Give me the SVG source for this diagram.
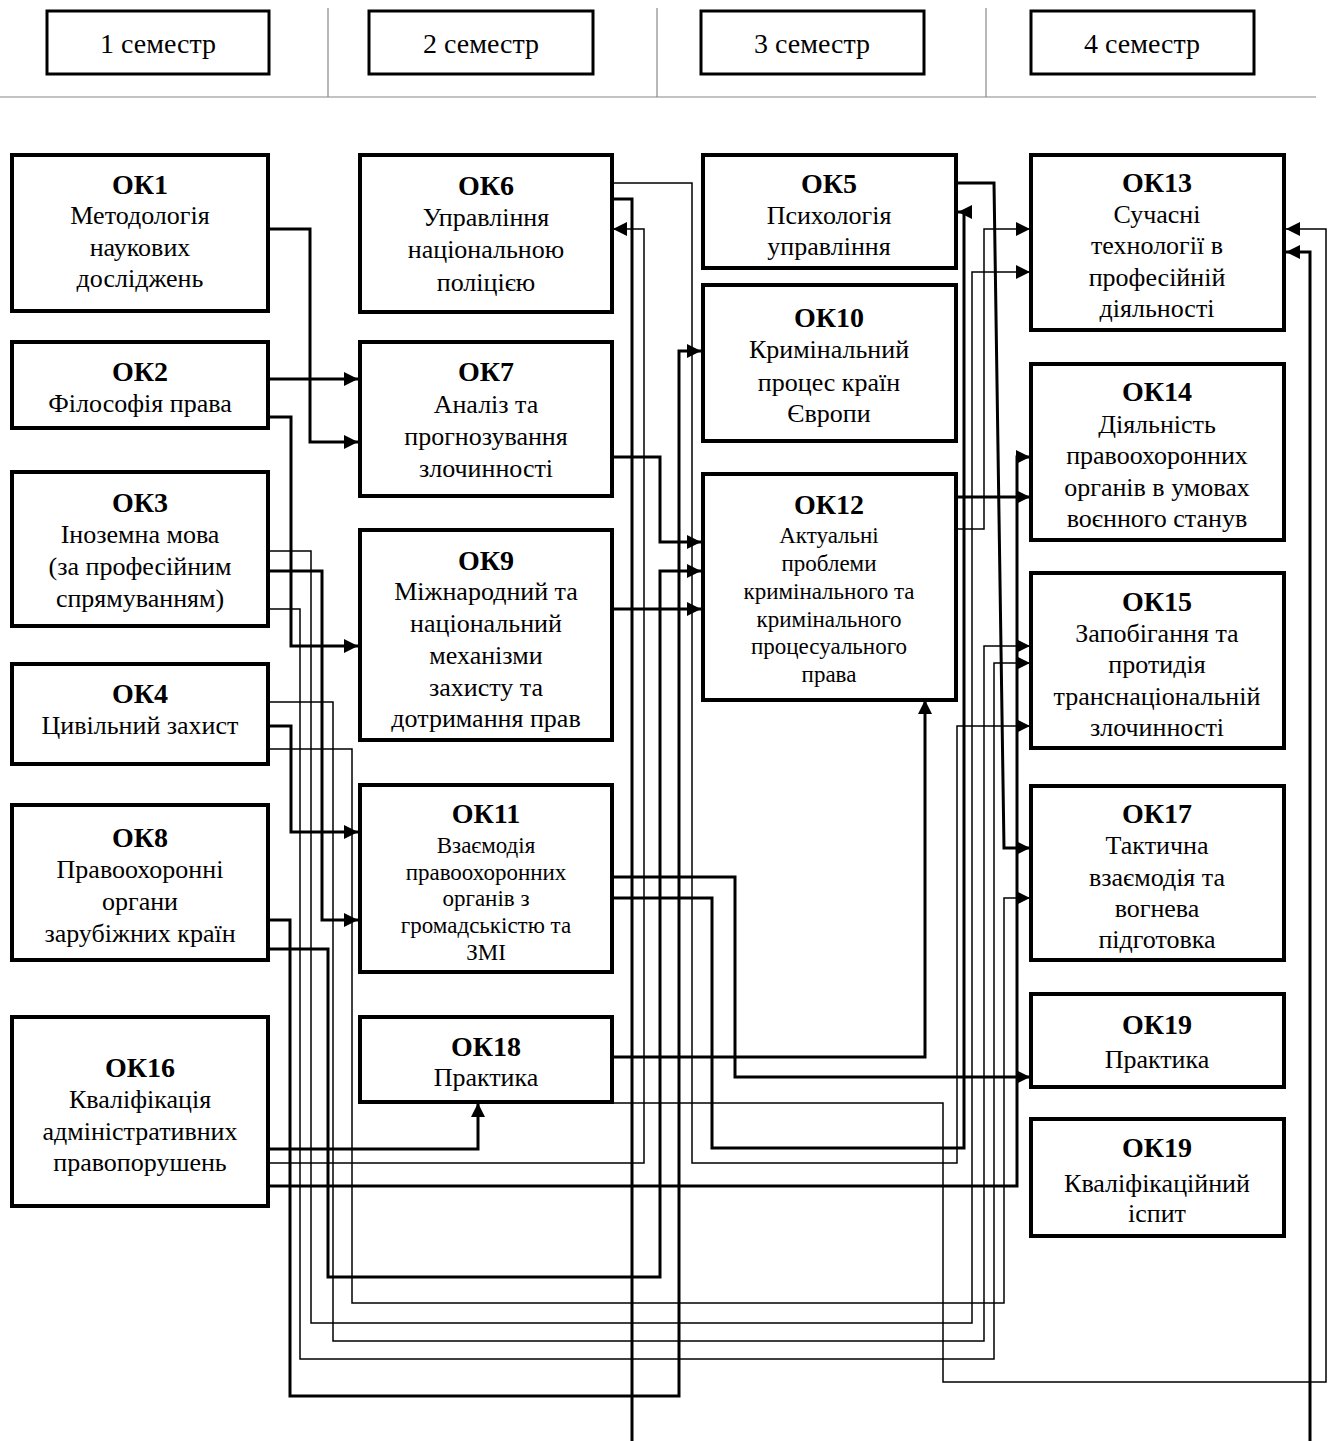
<svg xmlns="http://www.w3.org/2000/svg" width="1328" height="1441" viewBox="0 0 1328 1441">
<style>
.box{fill:#fff;stroke:#000;stroke-width:4}
.hbox{fill:#fff;stroke:#000;stroke-width:3}
.t{font-family:"Liberation Serif","Times New Roman",serif;font-size:26px;text-anchor:middle;fill:#000}
.h{font-size:28px}
.b{font-weight:bold;font-size:28px}
.s{font-size:23px}
.thick{fill:none;stroke:#000;stroke-width:3}
.thin{fill:none;stroke:#000;stroke-width:1.5}
.div{stroke:#888;stroke-width:1.2}
</style>
<defs>
<marker id="a" markerUnits="userSpaceOnUse" markerWidth="15" markerHeight="15" refX="14" refY="7" orient="auto"><path d="M0,0 L14,7 L0,14 z" fill="#000"/></marker>
</defs>
<rect width="1328" height="1441" fill="#fff"/>
<g id="header">
<line class="div" x1="328" y1="8" x2="328" y2="97"/>
<line class="div" x1="657" y1="8" x2="657" y2="97"/>
<line class="div" x1="986" y1="8" x2="986" y2="97"/>
<line class="div" x1="0" y1="97" x2="1316" y2="97"/>
<rect class="hbox" x="47" y="11" width="222" height="63"/>
<text class="t h" x="158" y="53">1 семестр</text>
<rect class="hbox" x="369" y="11" width="224" height="63"/>
<text class="t h" x="481" y="53">2 семестр</text>
<rect class="hbox" x="701" y="11" width="223" height="63"/>
<text class="t h" x="812" y="53">3 семестр</text>
<rect class="hbox" x="1031" y="11" width="223" height="63"/>
<text class="t h" x="1142" y="53">4 семестр</text>
</g>
<g id="connectors">
<path class="thick" d="M270 229 H310 V442 H358" marker-end="url(#a)"/>
<path class="thick" d="M270 379 H358" marker-end="url(#a)"/>
<path class="thick" d="M270 417 H291 V646 H358" marker-end="url(#a)"/>
<path class="thick" d="M270 571 H322 V920 H358" marker-end="url(#a)"/>
<path class="thin" d="M270 551 H311 V1323 H972 V272 H1030" marker-end="url(#a)"/>
<path class="thin" d="M270 609 H300 V1359 H994 V663 H1030" marker-end="url(#a)"/>
<path class="thick" d="M270 726 H291 V832 H358" marker-end="url(#a)"/>
<path class="thin" d="M270 702 H333 V1341 H984 V646 H1030" marker-end="url(#a)"/>
<path class="thin" d="M270 749 H352 V1303 H1004 V898 H1030" marker-end="url(#a)"/>
<path class="thick" d="M270 920 H290 V1396 H679 V351 H701" marker-end="url(#a)"/>
<path class="thick" d="M270 949 H328 V1277 H660 V571 H701" marker-end="url(#a)"/>
<path class="thick" d="M270 1149 H478 V1103" marker-end="url(#a)"/>
<path class="thin" d="M270 1163 H644 V229 H613" marker-end="url(#a)"/>
<path class="thick" d="M270 1186 H1017 V457 H1030" marker-end="url(#a)"/>
<path class="thick" d="M613 199 H632 V1441"/>
<path class="thin" d="M613 183 H692 V1163 H957 V726 H1030" marker-end="url(#a)"/>
<path class="thick" d="M613 457 H660 V542 H701" marker-end="url(#a)"/>
<path class="thick" d="M613 609 H701" marker-end="url(#a)"/>
<path class="thick" d="M613 877 H735 V1077 H1030" marker-end="url(#a)"/>
<path class="thick" d="M613 898 H712 V1148 H964 V212 H958" marker-end="url(#a)"/>
<path class="thick" d="M613 1057 H925 V700" marker-end="url(#a)"/>
<path class="thin" d="M613 1103 H943 V1382 H1326 V229 H1286" marker-end="url(#a)"/>
<path class="thick" d="M958 183 H994 L1004 848 H1030" marker-end="url(#a)"/>
<path class="thin" d="M958 529 H984 V229 H1030" marker-end="url(#a)"/>
<path class="thick" d="M958 497 H1030" marker-end="url(#a)"/>
<path class="thick" d="M1310 1441 V252 H1286" marker-end="url(#a)"/>
</g>
<g id="OK1"><rect class="box" x="12" y="155" width="256" height="156"/>
<text class="t b" x="140" y="194">ОК1</text><text class="t" x="140" y="224">Методологія</text><text class="t" x="140" y="256">наукових</text><text class="t" x="140" y="287">досліджень</text></g>
<g id="OK2"><rect class="box" x="12" y="342" width="256" height="86"/>
<text class="t b" x="140" y="381">ОК2</text><text class="t" x="140" y="412">Філософія права</text></g>
<g id="OK3"><rect class="box" x="12" y="472" width="256" height="154"/>
<text class="t b" x="140" y="512">ОК3</text><text class="t" x="140" y="543">Іноземна мова</text><text class="t" x="140" y="575">(за професійним</text><text class="t" x="140" y="607">спрямуванням)</text></g>
<g id="OK4"><rect class="box" x="12" y="664" width="256" height="100"/>
<text class="t b" x="140" y="703">ОК4</text><text class="t" x="140" y="734">Цивільний захист</text></g>
<g id="OK8"><rect class="box" x="12" y="805" width="256" height="155"/>
<text class="t b" x="140" y="847">ОК8</text><text class="t" x="140" y="878">Правоохоронні</text><text class="t" x="140" y="910">органи</text><text class="t" x="140" y="942">зарубіжних країн</text></g>
<g id="OK16"><rect class="box" x="12" y="1017" width="256" height="189"/>
<text class="t b" x="140" y="1077">ОК16</text><text class="t" x="140" y="1108">Кваліфікація</text><text class="t" x="140" y="1140">адміністративних</text><text class="t" x="140" y="1171">правопорушень</text></g>
<g id="OK6"><rect class="box" x="360" y="155" width="252" height="157"/>
<text class="t b" x="486" y="195">ОК6</text><text class="t" x="486" y="226">Управління</text><text class="t" x="486" y="258">національною</text><text class="t" x="486" y="291">поліцією</text></g>
<g id="OK7"><rect class="box" x="360" y="342" width="252" height="154"/>
<text class="t b" x="486" y="381">ОК7</text><text class="t" x="486" y="413">Аналіз та</text><text class="t" x="486" y="445">прогнозування</text><text class="t" x="486" y="477">злочинності</text></g>
<g id="OK9"><rect class="box" x="360" y="530" width="252" height="210"/>
<text class="t b" x="486" y="570">ОК9</text><text class="t" x="486" y="600">Міжнародний та</text><text class="t" x="486" y="632">національний</text><text class="t" x="486" y="664">механізми</text><text class="t" x="486" y="696">захисту та</text><text class="t" x="486" y="727">дотримання прав</text></g>
<g id="OK11"><rect class="box" x="360" y="785" width="252" height="187"/>
<text class="t b" x="486" y="823">ОК11</text><text class="t s" x="486" y="853">Взаємодія</text><text class="t s" x="486" y="880">правоохоронних</text><text class="t s" x="486" y="906">органів з</text><text class="t s" x="486" y="933">громадськістю та</text><text class="t s" x="486" y="960">ЗМІ</text></g>
<g id="OK18"><rect class="box" x="360" y="1017" width="252" height="85"/>
<text class="t b" x="486" y="1056">ОК18</text><text class="t" x="486" y="1086">Практика</text></g>
<g id="OK5"><rect class="box" x="703" y="155" width="253" height="113"/>
<text class="t b" x="829" y="193">ОК5</text><text class="t" x="829" y="224">Психологія</text><text class="t" x="829" y="255">управління</text></g>
<g id="OK10"><rect class="box" x="703" y="285" width="253" height="156"/>
<text class="t b" x="829" y="327">ОК10</text><text class="t" x="829" y="358">Кримінальний</text><text class="t" x="829" y="391">процес країн</text><text class="t" x="829" y="422">Європи</text></g>
<g id="OK12"><rect class="box" x="703" y="474" width="253" height="226"/>
<text class="t b" x="829" y="514">ОК12</text><text class="t s" x="829" y="543">Актуальні</text><text class="t s" x="829" y="571">проблеми</text><text class="t s" x="829" y="599">кримінального та</text><text class="t s" x="829" y="627">кримінального</text><text class="t s" x="829" y="654">процесуального</text><text class="t s" x="829" y="682">права</text></g>
<g id="OK13"><rect class="box" x="1031" y="155" width="253" height="175"/>
<text class="t b" x="1157" y="192">ОК13</text><text class="t" x="1157" y="223">Сучасні</text><text class="t" x="1157" y="254">технології в</text><text class="t" x="1157" y="286">професійній</text><text class="t" x="1157" y="317">діяльності</text></g>
<g id="OK14"><rect class="box" x="1031" y="364" width="253" height="176"/>
<text class="t b" x="1157" y="401">ОК14</text><text class="t" x="1157" y="433">Діяльність</text><text class="t" x="1157" y="464">правоохоронних</text><text class="t" x="1157" y="496">органів в умовах</text><text class="t" x="1157" y="527">воєнного станув</text></g>
<g id="OK15"><rect class="box" x="1031" y="573" width="253" height="175"/>
<text class="t b" x="1157" y="611">ОК15</text><text class="t" x="1157" y="642">Запобігання та</text><text class="t" x="1157" y="673">протидія</text><text class="t" x="1157" y="705">транснаціональній</text><text class="t" x="1157" y="736">злочинності</text></g>
<g id="OK17"><rect class="box" x="1031" y="786" width="253" height="174"/>
<text class="t b" x="1157" y="823">ОК17</text><text class="t" x="1157" y="854">Тактична</text><text class="t" x="1157" y="886">взаємодія та</text><text class="t" x="1157" y="917">вогнева</text><text class="t" x="1157" y="948">підготовка</text></g>
<g id="OK19a"><rect class="box" x="1031" y="994" width="253" height="93"/>
<text class="t b" x="1157" y="1034">ОК19</text><text class="t" x="1157" y="1068">Практика</text></g>
<g id="OK19b"><rect class="box" x="1031" y="1119" width="253" height="117"/>
<text class="t b" x="1157" y="1157">ОК19</text><text class="t" x="1157" y="1192">Кваліфікаційний</text><text class="t" x="1157" y="1222">іспит</text></g>
</svg>
